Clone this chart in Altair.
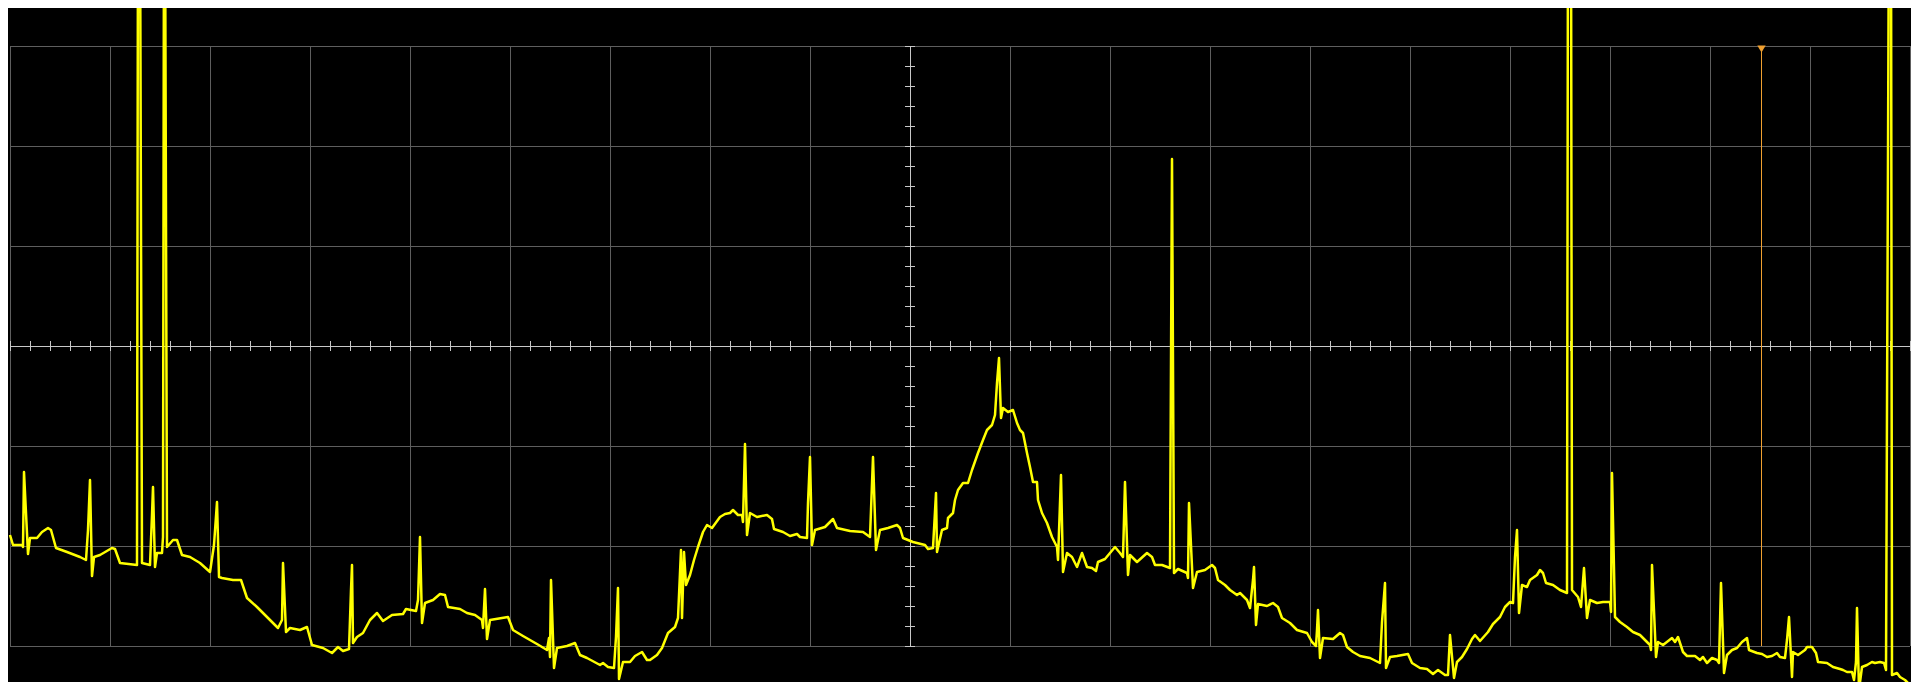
import altair as alt
import pandas as pd

# Oscilloscope capture: 100 ms/div horizontally, 1 mV/div vertically (screen centre = 0, 0)
# Values above 4 mV are off-screen (clipped) spikes.
seg_1 = [(-900,-1.89),(-897,-1.99),(-888,-1.99),(-887,-2.01),(-886,-1.26),(-882,-2.08),(-880,-1.92),(-873,-1.92),
         (-868,-1.86),(-862,-1.82),(-859,-1.84),(-854,-2.02),(-843,-2.06),(-830,-2.11),(-824,-2.14),(-822,-1.84),
         (-820,-1.34),(-818,-2.30),(-816,-2.11),(-810,-2.09),(-798,-2.02),(-795,-2.03),(-790,-2.17),(-773,-2.19),
         (-772,4.5),(-770,4.5),(-768,-2.17),(-760,-2.19),(-758,-1.69),(-757,-1.41),(-755,-2.21),(-753,-2.07),
         (-748,-2.07),(-747,-1.91),(-746,4.5),(-745,4.5),(-743,-2.01),(-737,-1.94),(-733,-1.94),(-728,-2.09),
         (-720,-2.11),(-710,-2.17),(-700,-2.26),(-696,-1.99),(-693,-1.56),(-691,-2.31),(-688,-2.32),(-677,-2.34),
         (-669,-2.34),(-663,-2.52),(-653,-2.61),(-643,-2.71),(-632,-2.82),(-628,-2.74),(-627,-2.17),(-624,-2.86),
         (-620,-2.82),(-610,-2.84)]
seg_2 = [(-603,-2.81),(-598,-2.99),(-587,-3.02),(-578,-3.07),(-572,-3.01),(-567,-3.05),(-561,-3.03),(-559,-2.44),
         (-558,-2.19),(-557,-2.97),(-553,-2.91),(-547,-2.87),(-540,-2.74),(-533,-2.67),(-527,-2.75),(-518,-2.69),
         (-507,-2.68),(-504,-2.63),(-494,-2.65),(-492,-2.54),(-490,-1.91),(-488,-2.77),(-485,-2.57),(-477,-2.54),
         (-470,-2.48),(-465,-2.49),(-462,-2.61),(-450,-2.63),(-443,-2.67),(-435,-2.69),(-428,-2.74),(-427,-2.82),
         (-425,-2.43),(-423,-2.93),(-420,-2.74),(-402,-2.71),(-397,-2.84),(-387,-2.90),(-373,-2.98),(-363,-3.04),
         (-361,-2.92),(-360,-3.11),(-359,-2.34),(-356,-3.22),(-353,-3.02)]
seg_3 = [(-343,-3.00),(-335,-2.97),(-330,-3.09),(-323,-3.12),(-310,-3.19),(-307,-3.17),(-302,-3.21),(-296,-3.22),
         (-294,-2.91),(-292,-2.42),(-291,-3.33),(-287,-3.16),(-280,-3.16),(-275,-3.10),(-268,-3.06),(-263,-3.14),
         (-260,-3.14),(-253,-3.09),(-248,-3.02),(-242,-2.87),(-235,-2.81),(-232,-2.72),(-229,-2.04),(-228,-2.72),
         (-226,-2.06),(-224,-2.39),(-220,-2.29),(-216,-2.14),(-212,-2.01),(-207,-1.86),(-203,-1.79),(-198,-1.82),
         (-190,-1.71),(-185,-1.68),(-180,-1.67),(-177,-1.64),(-172,-1.69),(-168,-1.69),(-167,-1.76),(-165,-0.98),
         (-163,-1.89),(-160,-1.67),(-153,-1.71),(-143,-1.69),(-138,-1.73),(-136,-1.83),(-127,-1.86),(-120,-1.90),
         (-113,-1.88),(-110,-1.91),(-103,-1.92)]
seg_4 = [(-102,-1.57),(-100,-1.11),(-98,-1.99),(-95,-1.84),(-85,-1.81),(-77,-1.73),(-73,-1.82),(-60,-1.85),
         (-47,-1.86),(-40,-1.91),(-37,-1.11),(-34,-2.04),(-30,-1.84),(-22,-1.82),(-13,-1.79),(-10,-1.82),
         (-7,-1.92),(3,-1.96),(15,-1.99),(18,-2.03),(23,-2.02),(26,-1.47),(27,-2.06),(32,-1.84),(37,-1.82),
         (38,-1.72),(43,-1.67),(45,-1.54),(48,-1.44),(53,-1.37),(58,-1.37),(62,-1.24),(68,-1.07),(73,-0.94),
         (77,-0.84),(82,-0.79),(85,-0.69),(87,-0.37),(89,-0.12),(91,-0.72),(93,-0.62),(98,-0.66),(103,-0.64),
         (107,-0.77),(110,-0.84),(113,-0.87),(117,-1.07),(120,-1.21),(123,-1.36),(127,-1.36),(128,-1.54),
         (132,-1.67),(137,-1.77),(142,-1.91),(147,-2.01),(148,-2.14),(151,-1.29),(153,-2.26),(157,-2.07),
         (162,-2.11),(167,-2.21),(172,-2.07),(177,-2.21),(182,-2.22),(186,-2.25)]
seg_5 = [(188,-2.16),(195,-2.13),(200,-2.07),(205,-2.01),(210,-2.07),(213,-2.11),(215,-1.36),(218,-2.29),
         (220,-2.09),(227,-2.16),(237,-2.07),(242,-2.11),(245,-2.19),(252,-2.19),(260,-2.22),(262,1.87),
         (264,-2.27),(268,-2.23),(277,-2.27),(278,-2.32),(279,-1.57),(283,-2.42),(287,-2.26),(295,-2.24),
         (302,-2.19),(305,-2.22),(308,-2.34),(315,-2.39),(320,-2.44),(327,-2.49),(330,-2.47),(337,-2.54),
         (340,-2.62),(343,-2.34),(344,-2.21),(346,-2.79),(348,-2.58),(357,-2.60),(363,-2.57),(368,-2.61),
         (372,-2.72),(380,-2.77),(387,-2.84),(397,-2.87),(402,-2.96),(406,-3.00),(407,-2.84),(408,-2.64),
         (410,-3.12),(413,-2.92),(423,-2.93),(430,-2.87),(433,-2.89),(437,-3.01),(443,-3.06),(450,-3.10),
         (460,-3.12),(470,-3.17),(472,-2.76),(475,-2.37),(476,-3.22),(480,-3.11)]
seg_6 = [(487,-3.10),(498,-3.08),(502,-3.17),(510,-3.22),(517,-3.23),(523,-3.28),(528,-3.24),(535,-3.29),
         (538,-3.29),(540,-2.89),(544,-3.32),(547,-3.16),(552,-3.11),(557,-3.03),(562,-2.93),(565,-2.89),
         (570,-2.95),(578,-2.86),(583,-2.78),(590,-2.71),(595,-2.61),(600,-2.56),(603,-2.57),(605,-2.11),
         (607,-1.84),(609,-2.67),(612,-2.39),(617,-2.41),(620,-2.34),(627,-2.29),(630,-2.24),(633,-2.27),
         (636,-2.37),(643,-2.39),(650,-2.44),(657,-2.47),(658,4.5),(661,4.5),(662,-2.44),(668,-2.51),
         (671,-2.61),(674,-2.22),(677,-2.72),(680,-2.54),(687,-2.57),(693,-2.56),(700,-2.56),(701,-2.66),
         (702,-1.27),(705,-2.71),(710,-2.76),(717,-2.81),(723,-2.86),(730,-2.89),(733,-2.92),(740,-2.99)]
seg_7 = [(741,-3.04),(742,-2.19),(746,-3.11),(748,-2.96),(753,-2.99),(762,-2.92),(765,-2.96),(768,-2.91),
         (773,-3.06),(777,-3.10),(785,-3.10),(790,-3.14),(793,-3.11),(797,-3.17),(802,-3.12),(807,-3.14),
         (809,-3.17),(811,-2.37),(814,-3.27),(817,-3.09),(822,-3.04),(827,-3.02),(832,-2.96),(837,-2.92),
         (839,-3.04),(847,-3.07),(852,-3.08),(857,-3.11),(862,-3.10),(867,-3.07),(870,-3.11),(875,-3.12),
         (877,-2.94),(879,-2.71),(882,-3.31),(883,-3.06),(888,-3.09),(895,-3.04),(897,-3.01),(902,-3.01),
         (906,-3.07),(908,-3.16),(917,-3.17),(923,-3.21),(930,-3.23),(933,-3.24),(937,-3.26),(942,-3.26),
         (944,-3.34),(946,-3.16),(947,-2.62),(949,-3.44),(952,-3.21),(957,-3.19),(962,-3.16),(965,-3.17),
         (970,-3.16),(974,-3.17),(976,-3.24),(979,4.5),(981,4.5),(982,-3.29),(987,-3.27),(990,-3.31),
         (995,-3.34),(998,-3.37)]

# graticule: 19 x 6 divisions
grid_t = [-900, -800, -700, -600, -500, -400, -300, -200, -100, 0, 100, 200, 300, 400, 500, 600, 700, 800, 900, 1000]
grid_v = [-3, -2, -1, 0, 1, 2, 3]
minor_t = list(range(-900, 1001, 20))          # 5 minor ticks per division
minor_v = [round(-3 + 0.2 * k, 1) for k in range(31)]
tick_half_v = 0.05                             # half tick length (mV)
tick_half_t = 5                                # half tick length (ms)

trigger_t = [851]
trigger_marker_v = [2.97]

trace = pd.DataFrame(seg_1 + seg_2 + seg_3 + seg_4 + seg_5 + seg_6 + seg_7, columns=["t", "v"])
trace["i"] = range(len(trace))

XS = alt.Scale(domain=[-900, 1000])
YS = alt.Scale(domain=[-3, 3])


def X(f):
    return alt.X(f, type="quantitative", scale=XS, axis=None)


def Y(f):
    return alt.Y(f, type="quantitative", scale=YS, axis=None)


GRID = "#5e5e5e"
AXIS = "#c8c8c8"
ORANGE = "#f0a030"

vgrid = alt.Chart(pd.DataFrame({"t": grid_t})).mark_rule(color=GRID, strokeWidth=1, xOffset=0.5).encode(x=X("t"))
hgrid = alt.Chart(pd.DataFrame({"v": grid_v})).mark_rule(color=GRID, strokeWidth=1, yOffset=0.5).encode(y=Y("v"))

caxis_v = alt.Chart(pd.DataFrame({"t": [0]})).mark_rule(color=AXIS, strokeWidth=1, xOffset=0.5).encode(x=X("t"))
caxis_h = alt.Chart(pd.DataFrame({"v": [0]})).mark_rule(color=AXIS, strokeWidth=1, yOffset=0.5).encode(y=Y("v"))

ticks_t = alt.Chart(pd.DataFrame({"t": minor_t, "a": [-tick_half_v] * len(minor_t), "b": [tick_half_v] * len(minor_t)})
                    ).mark_rule(color=AXIS, strokeWidth=1, xOffset=0.5).encode(x=X("t"), y=Y("a"), y2="b")
ticks_v = alt.Chart(pd.DataFrame({"v": minor_v, "a": [-tick_half_t] * len(minor_v), "b": [tick_half_t] * len(minor_v)})
                    ).mark_rule(color=AXIS, strokeWidth=1, yOffset=0.5).encode(y=Y("v"), x=X("a"), x2="b")

trig_line = alt.Chart(pd.DataFrame({"t": trigger_t})).mark_rule(color=ORANGE, strokeWidth=1, xOffset=0.5).encode(x=X("t"))
trig_mark = alt.Chart(pd.DataFrame({"t": trigger_t, "v": trigger_marker_v})).mark_point(
    shape="triangle-down", filled=True, size=70, color=ORANGE, opacity=1, xOffset=0.5
).encode(x=X("t"), y=Y("v"))

line = alt.Chart(trace).mark_line(color="#ffff00", strokeWidth=2.5, clip=False, strokeJoin="round").encode(
    x=X("t"), y=Y("v"), order=alt.Order("i:Q"))

chart = alt.layer(vgrid, hgrid, caxis_v, caxis_h, ticks_t, ticks_v, trig_line, trig_mark, line).properties(
    width=1900, height=600,
    padding={"left": 2, "top": 38, "right": 1, "bottom": 36},
    autosize=alt.AutoSizeParams(type="none"),
    background="#000000",
).configure_view(strokeWidth=0)

chart.save("out.html", embed_options={"renderer": "svg", "actions": False})
